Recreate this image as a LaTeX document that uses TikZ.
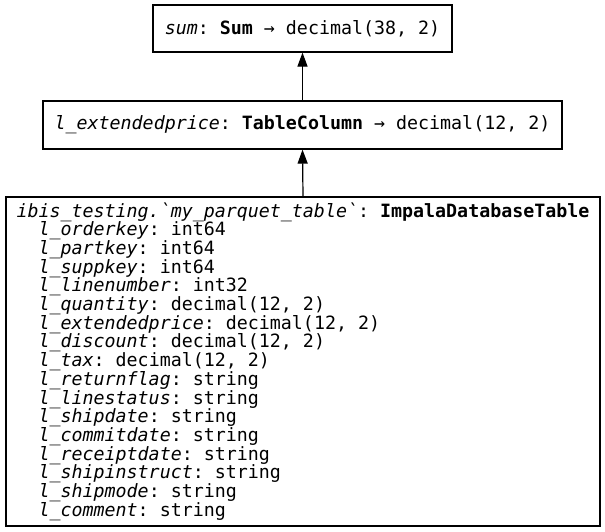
\documentclass[tikz,border=0pt]{standalone}
\usepackage{fontspec}
\setmonofont{DejaVu Sans Mono}
\usetikzlibrary{arrows.meta}
\newcommand\myboxfont{\fontsize{18.3}{18.7}\selectfont\ttfamily\lineskiplimit=-100pt\relax\lineskip=0pt\relax}
\begin{document}
\begin{tikzpicture}[x=1pt,y=-1pt,
  box/.style={draw=black, line width=1.2pt, inner sep=0pt, align=left,
    font=\myboxfont},
  arr/.style={line width=1.2pt, -{Triangle[length=14pt,width=10pt]}}]
\useasboundingbox (0,0) rectangle (605,531);
\node[box, minimum width=299pt, minimum height=47pt] (sum) at (302.5,28.5)
  {\textit{sum}: \textbf{Sum} → decimal(38, 2)};
\node[box, minimum width=519pt, minimum height=48pt] (col) at (302.5,125)
  {\textit{l\_extendedprice}: \textbf{TableColumn} → decimal(12, 2)};
\node[box, minimum width=594pt, minimum height=329pt] (tbl) at (303,361.5)
  {\textit{ibis\_testing.`my\_parquet\_table`}: \textbf{ImpalaDatabaseTable}\\
   \phantom{xx}\textit{l\_orderkey}: int64\\
   \phantom{xx}\textit{l\_partkey}: int64\\
   \phantom{xx}\textit{l\_suppkey}: int64\\
   \phantom{xx}\textit{l\_linenumber}: int32\\
   \phantom{xx}\textit{l\_quantity}: decimal(12, 2)\\
   \phantom{xx}\textit{l\_extendedprice}: decimal(12, 2)\\
   \phantom{xx}\textit{l\_discount}: decimal(12, 2)\\
   \phantom{xx}\textit{l\_tax}: decimal(12, 2)\\
   \phantom{xx}\textit{l\_returnflag}: string\\
   \phantom{xx}\textit{l\_linestatus}: string\\
   \phantom{xx}\textit{l\_shipdate}: string\\
   \phantom{xx}\textit{l\_commitdate}: string\\
   \phantom{xx}\textit{l\_receiptdate}: string\\
   \phantom{xx}\textit{l\_shipinstruct}: string\\
   \phantom{xx}\textit{l\_shipmode}: string\\
   \phantom{xx}\textit{l\_comment}: string};
\draw[arr] (tbl.north) -- (col.south);
\draw[arr] (col.north) -- (sum.south);
\end{tikzpicture}
\end{document}
